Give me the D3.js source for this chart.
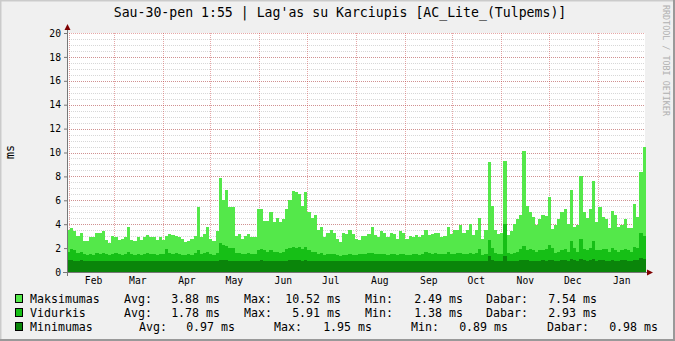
<!doctype html>
<html lang="lt">
<head>
<meta charset="utf-8">
<title>Lag'as su Karciupis</title>
<script src="https://cdnjs.cloudflare.com/ajax/libs/d3/7.8.5/d3.min.js"></script>
<style>
  body { margin: 0; background: #f0f0f0; }
  svg text { font-family: "DejaVu Sans Mono", monospace; }
</style>
</head>
<body>
<svg id="svg" width="675" height="341"></svg>
<script>
// two-day samples starting 2014-01-30 12:00
var startDate = new Date(2014, 0, 30, 12);
var endDate = new Date(2015, 0, 31, 0);

var maksimumas = [
  3.5,3.7,3.4,3.0,3.3,2.6,2.6,2.9,2.9,3.3,3.3,3.4,2.7,2.4,3.0,2.9,2.7,2.8,2.9,3.8,
  2.7,2.6,2.9,2.7,2.9,3.1,2.9,2.9,2.7,2.9,2.7,3.0,3.2,3.1,3.0,2.9,2.8,2.5,2.6,2.8,
  3.0,5.4,2.9,3.2,3.8,2.8,2.6,3.4,7.9,6.0,6.9,5.4,5.4,3.0,3.2,2.8,3.0,3.15,2.9,2.9,
  5.3,5.3,4.3,4.3,5.0,4.2,4.5,4.2,4.4,5.3,6.0,6.8,6.7,6.5,5.5,6.7,5.0,4.5,4.8,3.5,
  3.8,2.9,3.3,3.5,3.3,2.8,2.5,3.3,3.2,3.5,3.2,2.8,2.7,3.0,3.0,3.2,3.8,3.1,2.9,3.4,
  3.3,2.9,3.3,3.2,2.8,3.4,3.3,2.8,3.0,2.9,3.1,2.9,3.1,3.5,3.1,3.2,3.3,3.3,2.9,3.0,
  3.8,3.2,3.5,3.5,3.9,3.3,3.5,4.0,3.1,3.5,4.5,2.8,3.5,9.2,5.5,3.5,3.2,3.3,9.3,3.1,
  3.4,4.0,4.4,4.8,10.1,5.5,5.0,4.6,3.9,4.4,4.8,4.7,6.3,3.6,3.9,4.4,5.0,5.3,4.0,6.9,
  3.8,3.9,8.0,5.0,4.5,5.3,7.6,4.2,5.4,4.6,4.4,3.7,5.1,4.8,3.8,3.9,4.4,3.7,3.7,5.7,
  4.6,8.4,10.5
];
var vidurkis = [
  1.7,1.9,1.8,1.6,1.7,1.5,1.4,1.5,1.4,1.6,1.5,1.6,1.5,1.4,1.5,1.6,1.5,1.4,1.5,1.7,
  1.5,1.4,1.5,1.4,1.5,1.6,1.5,1.5,1.4,1.5,1.5,1.9,1.6,1.5,1.6,1.5,1.4,1.4,1.5,1.4,
  1.6,1.8,1.5,1.6,1.7,1.5,1.4,1.6,2.4,2.3,2.2,2.0,2.0,1.6,1.6,1.5,1.5,1.6,1.5,1.5,
  1.8,1.9,1.8,1.7,1.8,1.7,1.7,1.6,1.7,1.9,2.0,2.1,2.0,2.1,1.9,2.1,1.8,1.7,1.7,1.5,
  1.6,1.4,1.5,1.5,1.5,1.4,1.3,1.4,1.4,1.5,1.4,1.4,1.5,1.5,1.5,1.6,1.6,1.5,1.5,1.5,
  1.5,1.4,1.5,1.5,1.4,1.5,1.5,1.4,1.4,1.5,1.5,1.4,1.5,1.7,1.6,1.5,1.6,1.5,1.5,1.5,
  1.7,1.5,1.5,1.6,1.6,1.5,1.5,1.6,1.5,1.6,1.9,1.4,1.5,2.7,2.0,1.6,1.5,1.5,4.0,1.6,
  1.5,1.6,1.7,1.9,2.2,1.8,1.9,1.8,1.7,1.8,1.8,1.9,2.3,2.0,1.6,1.7,1.8,1.9,1.7,2.6,
  2.0,1.7,2.8,1.9,1.8,2.0,2.6,1.8,1.8,1.9,1.9,1.7,2.0,1.8,1.7,1.8,1.9,1.8,1.7,2.1,
  2.0,3.3,3.0
];
var minimumas = [
  1.0,1.0,0.95,0.95,1.0,0.95,0.95,0.95,0.95,0.95,0.95,0.95,0.95,0.9,0.95,0.95,0.95,0.9,0.95,0.95,
  0.95,0.9,0.95,0.95,0.95,0.95,0.95,0.9,0.95,0.95,0.95,0.95,0.95,0.95,0.95,0.95,0.9,0.9,0.95,0.9,
  0.95,0.95,0.95,0.95,0.95,0.95,0.9,0.95,1.0,1.0,1.0,0.95,0.95,0.95,0.95,0.9,0.95,0.95,0.9,0.95,
  0.95,1.0,0.95,0.95,0.95,0.95,0.95,0.95,0.95,0.95,1.0,1.0,1.0,1.0,0.95,1.0,0.95,0.95,0.95,0.9,
  0.9,0.9,0.9,0.9,0.9,0.9,0.9,0.9,0.9,0.9,0.9,0.9,0.9,0.9,0.9,0.95,0.9,0.9,0.9,0.9,
  0.9,0.9,0.9,0.9,0.9,0.9,0.9,0.9,0.9,0.9,0.9,0.9,0.9,0.95,0.9,0.9,0.9,0.9,0.9,0.9,
  0.95,0.9,0.9,0.9,0.95,0.9,0.9,0.95,0.9,0.9,0.95,0.9,0.9,1.3,1.0,0.9,0.9,0.9,1.3,0.95,
  0.9,0.95,0.95,1.0,1.0,1.0,0.95,0.95,0.95,0.95,1.0,0.95,1.0,1.0,0.95,0.95,1.0,1.0,0.95,1.1,
  1.0,0.95,1.1,1.0,0.95,1.0,1.05,0.95,1.0,1.0,0.95,0.95,1.0,0.95,0.95,1.0,1.0,0.95,0.95,1.0,
  1.0,1.2,1.1
];

var yTicks = [0, 2, 4, 6, 8, 10, 12, 14, 16, 18, 20];
var monthLabels = ["Feb","Mar","Apr","May","Jun","Jul","Aug","Sep","Oct","Nov","Dec","Jan"];
var monthStarts = [
  new Date(2014,1,1), new Date(2014,2,1), new Date(2014,3,1), new Date(2014,4,1),
  new Date(2014,5,1), new Date(2014,6,1), new Date(2014,7,1), new Date(2014,8,1),
  new Date(2014,9,1), new Date(2014,10,1), new Date(2014,11,1), new Date(2015,0,1)
];

var legendRows = [
  { name: "Maksimumas", color: "#54e84a",
    cols: [["Avg:",124],["3.88 ms",220,"end"],["Max:",244],["10.52 ms",341,"end"],["Min:",365],["2.49 ms",463,"end"],["Dabar:",486],["7.54 ms",597,"end"]] },
  { name: "Vidurkis", color: "#16bf16",
    cols: [["Avg:",124],["1.78 ms",220,"end"],["Max:",244],["5.91 ms",341,"end"],["Min:",365],["1.38 ms",463,"end"],["Dabar:",486],["2.93 ms",597,"end"]] },
  { name: "Minimumas", color: "#0a850a",
    cols: [["Avg:",139],["0.97 ms",235,"end"],["Max:",274],["1.95 ms",372,"end"],["Min:",411],["0.89 ms",508,"end"],["Dabar:",547],["0.98 ms",658,"end"]] }
];

var plotL = 67, plotR = 645, plotT = 33, plotB = 272;

var svg = d3.select('#svg');

// background + shading border
svg.append('rect').attr('width', 675).attr('height', 341).attr('fill', '#f0f0f0');
svg.append('path').attr('d', 'M0,341V0H675').attr('fill', 'none').attr('stroke', '#cbcbcb').attr('stroke-width', 3);
svg.append('path').attr('d', 'M0,340H674V0').attr('fill', 'none').attr('stroke', '#999').attr('stroke-width', 2);

svg.append('rect').attr('x', plotL).attr('y', plotT).attr('width', plotR - plotL).attr('height', plotB - plotT).attr('fill', '#fff');

var x = d3.scaleTime().domain([startDate, endDate]).range([plotL, plotR]);
var y = d3.scaleLinear().domain([0, 20]).range([plotB, plotT]);

var dates = maksimumas.map(function(d, i) { return d3.timeDay.offset(startDate, 2 * i); });
var lastDate = d3.timeDay.offset(startDate, 2 * maksimumas.length);

function series(vals) {
  var pts = vals.map(function(v, i) { return { t: dates[i], v: v }; });
  pts.push({ t: lastDate, v: vals[vals.length - 1] });
  return pts;
}

var area = d3.area()
  .curve(d3.curveStepAfter)
  .x(function(d) { return x(d.t); })
  .y0(y(0))
  .y1(function(d) { return y(d.v); });

// minor grid
svg.append('g')
  .attr('transform', 'translate(' + plotL + ',0)')
  .call(d3.axisLeft(y).tickValues(d3.range(0.5, 20, 0.5)).tickSize(-(plotR - plotL)).tickFormat(''))
  .call(function(g) {
    g.select('.domain').remove();
    g.selectAll('line').attr('stroke', 'rgba(140,140,140,0.35)').attr('stroke-dasharray', '1,1').attr('shape-rendering', 'crispEdges');
  });

// major grid
svg.append('g')
  .attr('transform', 'translate(' + plotL + ',0)')
  .call(d3.axisLeft(y).tickValues(yTicks).tickSize(-(plotR - plotL)).tickFormat(''))
  .call(function(g) {
    g.select('.domain').remove();
    g.selectAll('line').attr('stroke', 'rgba(200,60,60,0.45)').attr('stroke-dasharray', '1,1').attr('shape-rendering', 'crispEdges');
  });

svg.append('g')
  .attr('transform', 'translate(0,' + plotB + ')')
  .call(d3.axisBottom(x).tickValues(monthStarts).tickSize(-(plotB - plotT)).tickFormat(''))
  .call(function(g) {
    g.select('.domain').remove();
    g.selectAll('line').attr('stroke', 'rgba(200,60,60,0.45)').attr('stroke-dasharray', '1,1').attr('shape-rendering', 'crispEdges');
  });

// areas (overlaid, not stacked)
[[maksimumas, '#54e84a'], [vidurkis, '#16bf16'], [minimumas, '#0a850a']].forEach(function(s) {
  svg.append('path')
    .datum(series(s[0]))
    .attr('d', area)
    .attr('fill', s[1])
    .attr('shape-rendering', 'crispEdges');
});

// axes
svg.append('g')
  .attr('transform', 'translate(' + plotL + ',0)')
  .call(d3.axisLeft(y).tickValues(yTicks).tickSize(3).tickPadding(3))
  .call(function(g) {
    g.select('.domain').remove();
    g.selectAll('line').attr('stroke', '#777');
    g.selectAll('text').attr('font-size', '9.7px').attr('fill', '#000').attr('font-family', 'DejaVu Sans Mono');
  });

svg.append('g')
  .attr('transform', 'translate(0,' + plotB + ')')
  .call(d3.axisBottom(x).tickValues(monthStarts.map(function(d) { return d3.timeDay.offset(d, 15); }))
    .tickSize(0).tickPadding(5)
    .tickFormat(function(d, i) { return monthLabels[i]; }))
  .call(function(g) {
    g.select('.domain').remove();
    g.selectAll('text').attr('font-size', '9.7px').attr('fill', '#000').attr('font-family', 'DejaVu Sans Mono');
  });

svg.append('line').attr('x1', plotL + 0.5).attr('x2', plotL + 0.5).attr('y1', plotB + 4).attr('y2', plotT - 4)
  .attr('stroke', '#777');
svg.append('line').attr('x1', plotL - 4).attr('x2', plotR + 3).attr('y1', plotB + 0.5).attr('y2', plotB + 0.5)
  .attr('stroke', '#777');
svg.append('path').attr('d', 'M' + (plotL - 2.5) + ',' + (plotT - 3) + 'L' + (plotL + 0.5) + ',' + (plotT - 9) + 'L' + (plotL + 3.5) + ',' + (plotT - 3) + 'Z')
  .attr('fill', '#7f0000');
svg.append('path').attr('d', 'M' + (plotR + 2) + ',' + (plotB - 2.5) + 'L' + (plotR + 8) + ',' + (plotB + 0.5) + 'L' + (plotR + 2) + ',' + (plotB + 3.5) + 'Z')
  .attr('fill', '#7f0000');

// texts
svg.append('text').attr('x', 340).attr('y', 17).attr('text-anchor', 'middle')
  .attr('font-size', '13.2px').attr('fill', '#000')
  .text("Sau-30-pen 1:55 | Lag'as su Karciupis [AC_Lite_(Tulpems)]");

svg.append('text').attr('transform', 'translate(14,152) rotate(-90)').attr('text-anchor', 'middle')
  .attr('font-size', '11.6px').attr('fill', '#000').text('ms');

svg.append('text').attr('transform', 'translate(663,5) rotate(90)').attr('text-anchor', 'start')
  .attr('font-size', '8.4px').attr('fill', '#b0b0b0').text('RRDTOOL / TOBI OETIKER');

// legend
var legend = svg.append('g');
legendRows.forEach(function(r, i) {
  var cy = 299 + i * 14;
  legend.append('rect').attr('x', 15.5).attr('y', cy - 4.5).attr('width', 7).attr('height', 8)
    .attr('fill', r.color).attr('stroke', '#000');
  legend.append('text').attr('x', 30).attr('y', cy + 4).attr('font-size', '11.6px').attr('fill', '#000').text(r.name);
  r.cols.forEach(function(c) {
    legend.append('text').attr('x', c[1]).attr('y', cy + 4)
      .attr('text-anchor', c[2] || 'start')
      .attr('font-size', '11.6px').attr('fill', '#000').text(c[0]);
  });
});
</script>
</body>
</html>
